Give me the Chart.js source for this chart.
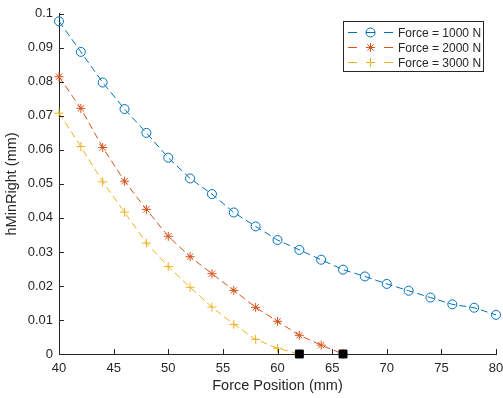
<!DOCTYPE html>
<html>
<head>
<meta charset="utf-8">
<script src="https://cdn.jsdelivr.net/npm/chart.js@4.4.0/dist/chart.umd.min.js"></script>
<style>
  body { margin: 0; background: #fff; }
  #chart_hmin { display: block; }
</style>
</head>
<body>
<canvas id="chart_hmin" width="503" height="398"></canvas>
<script>
// force position (mm)
const pos_1000 = [40, 42, 44, 46, 48, 50, 52, 54, 56, 58, 60, 62, 64, 66, 68, 70, 72, 74, 76, 78, 80];
const hmin_1000 = [0.0978, 0.0888, 0.0798, 0.0720, 0.0650, 0.0577, 0.0516, 0.0470, 0.0416, 0.0375, 0.0335, 0.0306, 0.0277, 0.0248, 0.0228, 0.0206, 0.0186, 0.0166, 0.0146, 0.0136, 0.0115];

const pos_2000 = [40, 42, 44, 46, 48, 50, 52, 54, 56, 58, 60, 62, 64, 66];
const hmin_2000 = [0.0815, 0.0722, 0.0607, 0.0508, 0.0425, 0.0346, 0.0286, 0.0236, 0.0187, 0.0137, 0.0096, 0.0055, 0.0026, 0.0];

const pos_3000 = [40, 42, 44, 46, 48, 50, 52, 54, 56, 58, 60, 62];
const hmin_3000 = [0.0708, 0.0610, 0.0506, 0.0417, 0.0326, 0.0257, 0.0196, 0.0138, 0.0087, 0.0043, 0.0017, 0.0];

// points where hMin reaches zero
const zero_pos = [62, 66];
const zero_hmin = [0, 0];

const seriesLabels = ['Force = 1000 N', 'Force = 2000 N', 'Force = 3000 N'];
const xTicks = [40, 45, 50, 55, 60, 65, 70, 75, 80];
const yTicks = [0, 0.01, 0.02, 0.03, 0.04, 0.05, 0.06, 0.07, 0.08, 0.09, 0.1];

const axisColor = '#262626';
const FONT = '"Liberation Sans", Arial, Helvetica, sans-serif';

const toPoints = (xs, ys) => xs.map((x, i) => ({ x: x, y: ys[i] }));

const seriesStyle = (color, marker) => ({
  borderColor: color,
  backgroundColor: 'rgba(0,0,0,0)',
  borderWidth: 1,
  borderDash: [7, 4],
  pointStyle: marker,
  pointRadius: 4.5,
  pointBorderColor: color,
  pointBackgroundColor: 'rgba(0,0,0,0)',
  pointBorderWidth: 1,
  tension: 0,
  clip: false
});

// MATLAB-like ticks that point into the plot
const inwardTicks = {
  id: 'inwardTicks',
  afterDatasetsDraw(chart) {
    const ctx = chart.ctx;
    const x = chart.scales.x, y = chart.scales.y;
    const a = chart.chartArea;
    ctx.save();
    ctx.strokeStyle = axisColor;
    ctx.lineWidth = 1;
    ctx.beginPath();
    x.ticks.forEach(t => {
      const px = Math.round(x.getPixelForValue(t.value)) + 0.5;
      ctx.moveTo(px, a.bottom);
      ctx.lineTo(px, a.bottom - 5);
    });
    y.ticks.forEach(t => {
      const py = Math.round(y.getPixelForValue(t.value)) + 0.5;
      ctx.moveTo(a.left, py);
      ctx.lineTo(a.left + 5, py);
    });
    ctx.stroke();
    ctx.restore();
  }
};

// legend box in the top right corner, line + marker like MATLAB
const boxLegend = {
  id: 'boxLegend',
  afterDraw(chart) {
    const ctx = chart.ctx;
    const bx = 343, by = 21, bw = 140, bh = 50;
    ctx.save();
    ctx.fillStyle = '#fff';
    ctx.fillRect(bx, by, bw, bh);
    ctx.strokeStyle = axisColor;
    ctx.lineWidth = 1;
    ctx.strokeRect(bx + 0.5, by + 0.5, bw, bh);
    ctx.font = '12px ' + FONT;
    ctx.textBaseline = 'middle';
    ctx.textAlign = 'left';
    seriesLabels.forEach((label, i) => {
      const ds = chart.data.datasets[i];
      const ry = by + 11.5 + i * 15;
      ctx.strokeStyle = ds.borderColor;
      ctx.lineWidth = 1;
      ctx.beginPath();
      [[348, 357], [366, 375], [384, 393]].forEach(seg => {
        ctx.moveTo(seg[0], ry);
        ctx.lineTo(seg[1], ry);
      });
      ctx.stroke();
      ctx.fillStyle = 'rgba(0,0,0,0)';
      Chart.helpers.drawPoint(ctx, {
        pointStyle: ds.pointStyle,
        radius: ds.pointRadius,
        rotation: 0,
        borderWidth: 1
      }, 370.5, ry);
      ctx.fillStyle = axisColor;
      ctx.fillText(label, 398, ry + 1);
    });
    ctx.restore();
  }
};

new Chart(document.getElementById('chart_hmin'), {
  type: 'line',
  data: {
    datasets: [
      Object.assign({ label: seriesLabels[0], data: toPoints(pos_1000, hmin_1000) }, seriesStyle('#0072BD', 'circle')),
      Object.assign({ label: seriesLabels[1], data: toPoints(pos_2000, hmin_2000) }, seriesStyle('#D95319', 'star')),
      Object.assign({ label: seriesLabels[2], data: toPoints(pos_3000, hmin_3000) }, seriesStyle('#EDB120', 'cross')),
      {
        label: 'zero',
        data: toPoints(zero_pos, zero_hmin),
        showLine: false,
        order: -1,
        pointStyle: 'rect',
        pointRadius: 5.6,
        pointBackgroundColor: '#000',
        pointBorderColor: '#000',
        pointBorderWidth: 1,
        clip: false
      }
    ]
  },
  options: {
    responsive: false,
    animation: false,
    events: [],
    layout: { padding: { left: 0, right: 0, top: 0, bottom: 0 } },
    plugins: {
      legend: { display: false },
      tooltip: { enabled: false }
    },
    scales: {
      x: {
        type: 'linear',
        min: 40,
        max: 80,
        afterBuildTicks: s => { s.ticks = xTicks.map(v => ({ value: v })); },
        afterFit: s => { s.height = 44; s.paddingRight = 7; },
        grid: { display: false, drawTicks: false },
        border: { display: true, color: axisColor, width: 1 },
        ticks: { color: axisColor, font: { family: FONT, size: 13 }, padding: 7, maxRotation: 0 },
        title: { display: true, text: 'Force Position (mm)', color: axisColor, font: { family: FONT, size: 14.5 }, padding: { top: 0, bottom: 3 } }
      },
      y: {
        type: 'linear',
        min: 0,
        max: 0.1,
        afterBuildTicks: s => { s.ticks = yTicks.map(v => ({ value: v })); },
        afterFit: s => { s.width = 59; },
        grid: { display: false, drawTicks: false },
        border: { display: true, color: axisColor, width: 1 },
        ticks: { color: axisColor, font: { family: FONT, size: 13 }, padding: 6, callback: v => String(+v.toFixed(2)) },
        title: { display: true, text: 'hMinRight (mm)', color: axisColor, font: { family: FONT, size: 14.5 }, padding: { top: 3, bottom: 0 } }
      }
    }
  },
  plugins: [inwardTicks, boxLegend]
});
</script>
</body>
</html>
